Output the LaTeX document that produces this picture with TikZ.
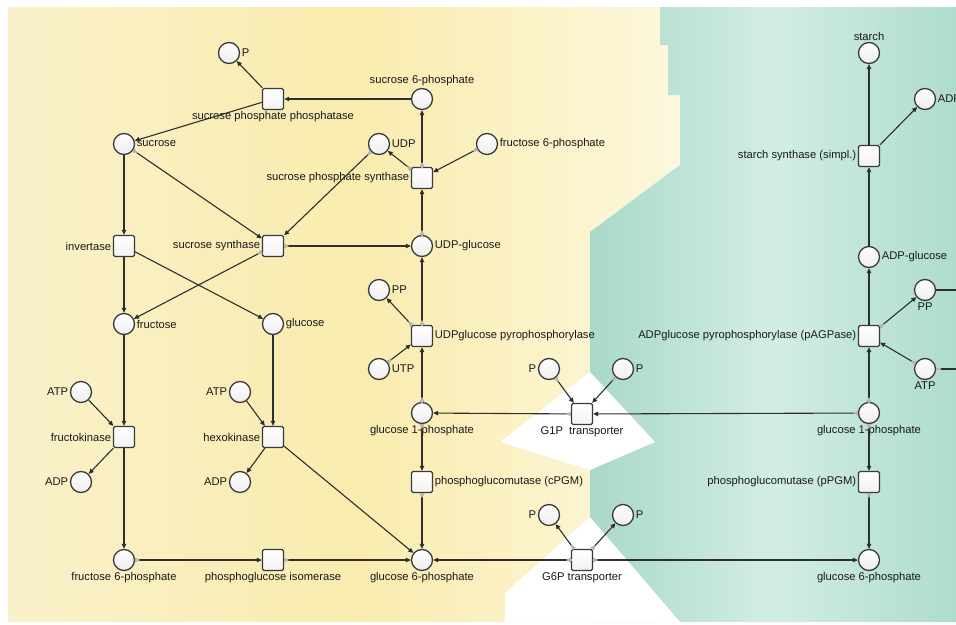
\documentclass[tikz,border=0pt]{standalone}
\usepackage{fontspec}
\setmainfont{Liberation Sans}
\usetikzlibrary{arrows.meta,decorations.markings}

\definecolor{ylwL}{HTML}{FAF1CA}
\definecolor{ylwM}{HTML}{F9ECAE}
\definecolor{ylwR}{HTML}{FDF8E0}
\definecolor{tealL}{HTML}{A9D9C8}
\definecolor{tealM}{HTML}{D3EDE5}
\definecolor{tealR}{HTML}{AEDCCD}
\definecolor{edgec}{HTML}{2E2E2E}
\definecolor{srcg}{HTML}{B4B4B4}
\definecolor{nodeb}{HTML}{3A3A3A}

\begin{document}
\begin{tikzpicture}[x=1pt,y=-1pt,
  place/.style={circle,draw=nodeb,line width=1.3pt,top color=white,bottom color=black!7,minimum size=21pt,inner sep=0pt},
  trans/.style={rectangle,rounded corners=1.5pt,draw=nodeb,line width=1.3pt,top color=white,bottom color=black!5,minimum size=21pt,inner sep=0pt},
  lab/.style={font=\fontsize{11.2}{13}\selectfont,text=black!90,inner sep=1pt},
  every label/.style={lab},
  label distance=0.5pt,
  arc/.style={draw=edgec,line width=1.1pt,-{Triangle[length=5pt,width=4.5pt]}},
  plainline/.style={draw=edgec,line width=1.1pt},
  src/.style={postaction={decorate,decoration={markings,mark=at position 0pt with {\draw[srcg,line width=1.3pt] (0,0) -- (5pt,0);}}}},
]
\useasboundingbox (0,0) rectangle (956,624);
% background
\fill[white] (0,0) rectangle (956,624);
\begin{scope}
\clip (8,7) -- (660,7) -- (660,45) -- (668,45) -- (668,95) -- (680,95) -- (680,165) -- (590,232) -- (590,622) -- (8,622) -- cycle;
\shade[left color=ylwL,right color=ylwR,middle color=ylwM] (8,0) rectangle (700,624);
\end{scope}
\begin{scope}
\clip (660,7) -- (956,7) -- (956,622) -- (590,622) -- (590,232) -- (680,165) -- (680,95) -- (668,95) -- (668,45) -- (660,45) -- cycle;
\shade[left color=tealL,right color=tealR,middle color=tealM] (590,0) rectangle (956,624);
\end{scope}
\fill[white] (590,372) -- (655,442) -- (590,470) -- (500,442) -- cycle;
\fill[white] (590,517) -- (680,622) -- (505,622) -- (505,593) -- cycle;

% nodes
\node[place,label={right:P}] (Ptop) at (229,53) {};
\node[trans,label={below:sucrose phosphate phosphatase}] (spp) at (273,99) {};
\node[place,label={above:sucrose 6-phosphate}] (s6p) at (422,99) {};
\node[place,label={right:sucrose}] (suc) at (124,144) {};
\node[place,label={right:UDP}] (udp) at (379,144) {};
\node[place,label={right:fructose 6-phosphate}] (f6pt) at (487,144) {};
\node[trans,label={left:sucrose phosphate synthase}] (sps) at (422,178) {};
\node[trans,label={left:invertase}] (inv) at (124,246) {};
\node[trans,label={left:sucrose synthase}] (susy) at (273,246) {};
\node[place,label={right:UDP-glucose}] (udpg) at (422,246) {};
\node[place,label={right:fructose}] (fru) at (124,324) {};
\node[place,label={right:glucose}] (glc) at (273,324) {};
\node[place,label={right:PP}] (ppc) at (379,290) {};
\node[trans,label={right:UDPglucose pyrophosphorylase}] (ugp) at (422,336) {};
\node[place,label={right:UTP}] (utp) at (379,369) {};
\node[place,label={left:ATP}] (atp1) at (81,392) {};
\node[trans,label={left:fructokinase}] (fk) at (124,437) {};
\node[place,label={left:ADP}] (adp1) at (81,482) {};
\node[place,label={left:ATP}] (atp2) at (240,392) {};
\node[trans,label={left:hexokinase}] (hk) at (273,437) {};
\node[place,label={left:ADP}] (adp2) at (240,482) {};
\node[place,label={below:glucose 1-phosphate}] (g1pc) at (422,413) {};
\node[trans,label={right:phosphoglucomutase (cPGM)}] (cpgm) at (422,482) {};
\node[place,label={below:fructose 6-phosphate}] (f6pb) at (124,560) {};
\node[trans,label={below:phosphoglucose isomerase}] (pgi) at (273,560) {};
\node[place,label={below:glucose 6-phosphate}] (g6pc) at (422,560) {};
\node[trans,label={below:G1P\ \ transporter}] (g1pt) at (582,414) {};
\node[place,label={left:P}] (p1) at (549,369) {};
\node[place,label={right:P}] (p2) at (623,369) {};
\node[trans,label={below:G6P transporter}] (g6pt) at (582,560) {};
\node[place,label={left:P}] (p3) at (549,515) {};
\node[place,label={right:P}] (p4) at (623,515) {};
\node[place,label={above:starch}] (starch) at (869,53) {};
\node[place,label={right:ADP}] (adp3) at (925,99) {};
\node[trans,label={left:starch synthase (simpl.)}] (ss) at (869,156) {};
\node[place,label={right:ADP-glucose}] (adpg) at (869,257) {};
\node[place,label={below:PP}] (pp2) at (925,290) {};
\node[trans,label={left:ADPglucose pyrophosphorylase (pAGPase)}] (agp) at (869,336) {};
\node[place,label={below:ATP}] (atp3) at (925,369) {};
\node[place,label={below:glucose 1-phosphate}] (g1pp) at (869,413) {};
\node[trans,label={left:phosphoglucomutase (pPGM)}] (ppgm) at (869,482) {};
\node[place,label={below:glucose 6-phosphate}] (g6pp) at (869,560) {};
\coordinate (ppout) at (962,290);
\coordinate (atpout) at (962,369);

% arcs
\draw[arc] (spp) -- (Ptop);
\draw[arc] (s6p) -- (spp);
\draw[arc] (spp) -- (suc);
\draw[arc,src] (sps) -- (s6p);
\draw[arc,src] (sps) -- (udp);
\draw[arc,src] (f6pt) -- (sps);
\draw[arc,src] (udpg) -- (sps);
\draw[arc] (suc) -- (inv);
\draw[arc,src] (suc) -- (susy);
\draw[arc,src] (udp) -- (susy);
\draw[arc,src] (susy) -- (udpg);
\draw[arc,src] (susy) -- (fru);
\draw[arc] (inv) -- (fru);
\draw[arc] (inv) -- (glc);
\draw[arc,src] (ugp) -- (udpg);
\draw[arc,src] (ugp) -- (ppc);
\draw[arc,src] (utp) -- (ugp);
\draw[arc,src] (g1pc) -- (ugp);
\draw[arc] (fru) -- (fk);
\draw[arc] (atp1) -- (fk);
\draw[arc] (fk) -- (adp1);
\draw[arc] (fk) -- (f6pb);
\draw[arc] (glc) -- (hk);
\draw[arc] (atp2) -- (hk);
\draw[arc] (hk) -- (adp2);
\draw[arc] (hk) -- (g6pc);
\draw[arc,src] (f6pb) -- (pgi);
\draw[arc,src] (pgi) -- (g6pc);
\draw[arc,src] (g1pc) -- (cpgm);
\draw[arc,src] (cpgm) -- (g6pc);
\draw[arc,src] (g1pt) -- (g1pc);
\draw[arc,src] (p1) -- (g1pt);
\draw[arc,src] (p2) -- (g1pt);
\draw[arc,src] (g1pp) -- (g1pt);
\draw[arc,src] (g6pt) -- (g6pc);
\draw[arc,src] (g6pt) -- (p3);
\draw[arc,src] (g6pt) -- (p4);
\draw[arc,src] (g6pt) -- (g6pp);
\draw[arc,src] (g1pp) -- (agp);
\draw[arc] (agp) -- (adpg);
\draw[arc,src] (agp) -- (pp2);
\draw[arc,src] (atp3) -- (agp);
\draw[arc] (adpg) -- (ss);
\draw[arc] (ss) -- (starch);
\draw[arc] (ss) -- (adp3);
\draw[arc,src] (g1pp) -- (ppgm);
\draw[arc,src] (ppgm) -- (g6pp);
\draw[plainline] (pp2) -- (ppout);
\draw[plainline,src] (atp3) -- (atpout);
\end{tikzpicture}
\end{document}
